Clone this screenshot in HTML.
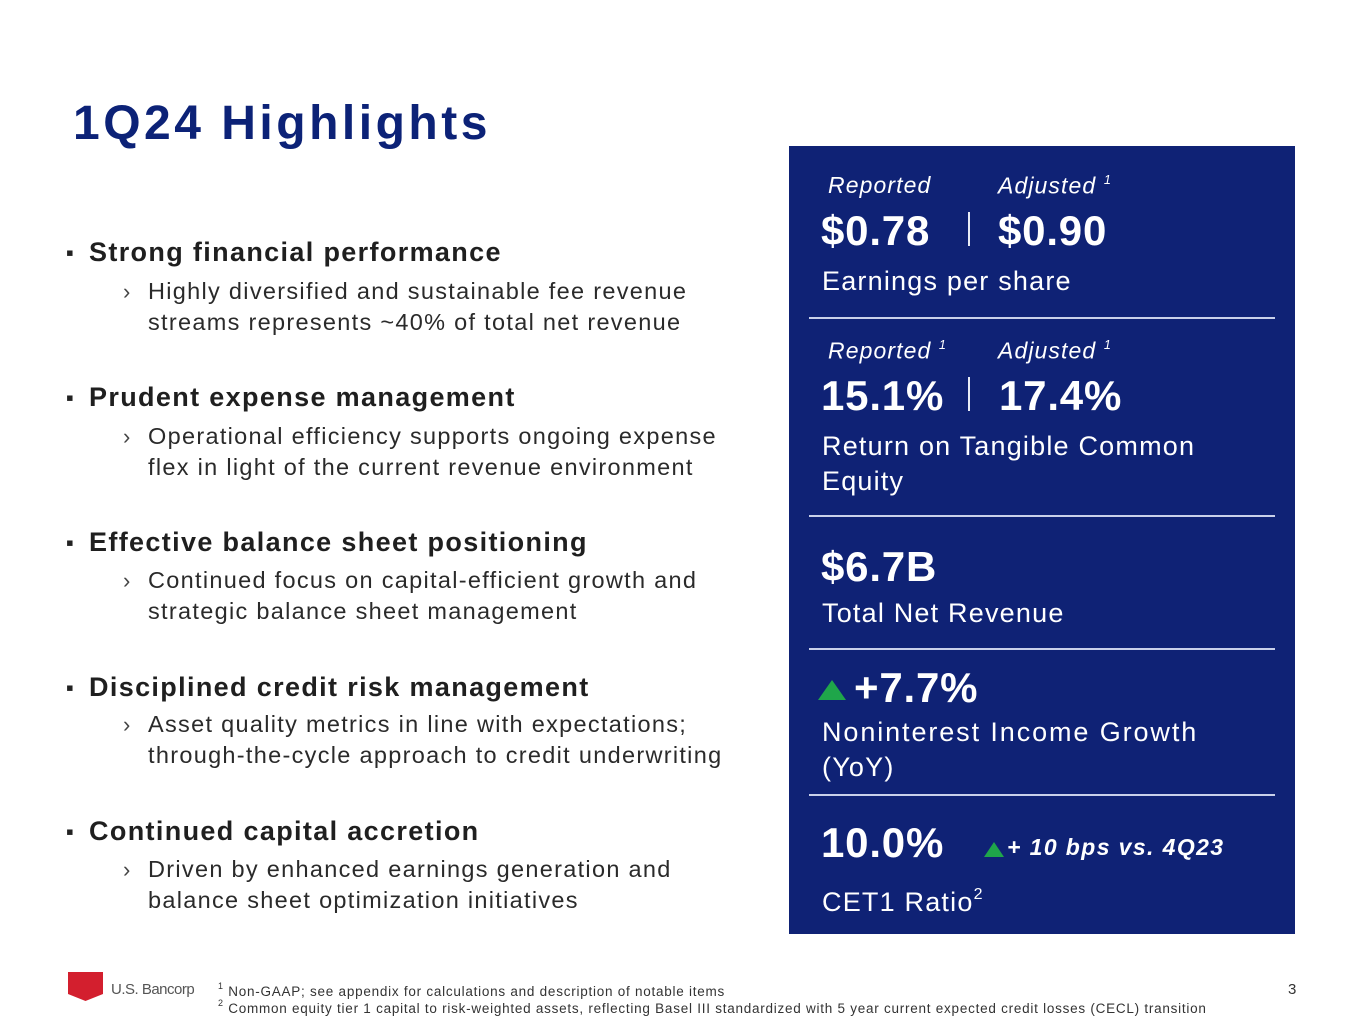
<!DOCTYPE html>
<html><head><meta charset="utf-8"><style>
*{margin:0;padding:0;box-sizing:border-box}
body{width:1365px;height:1024px;background:#fff;position:relative;overflow:hidden;font-family:"Liberation Sans",sans-serif}
.t{position:absolute;white-space:nowrap;line-height:1}
.h{font-size:27px;font-weight:bold;color:#1f1f1f;letter-spacing:1.35px}
.s{font-size:23.5px;color:#2a2a2a;letter-spacing:1.3px}
.b{font-size:22px;color:#222}
.a{font-size:22px;color:#444}
.w{color:#fff}
.it{font-size:23px;font-style:italic;letter-spacing:1.1px}
.big{font-size:42px;font-weight:bold;letter-spacing:0.8px}
.lab{font-size:27px;letter-spacing:1.2px}
.rule{position:absolute;left:809px;width:466px;height:2px;background:#c9d0ea}
.pipe{position:absolute;left:968px;width:2px;height:34px;background:#e8ebf5}
sup{font-size:0.55em;vertical-align:0.75em}
.tri{position:absolute;width:0;height:0;border-left:14px solid transparent;border-right:14px solid transparent;border-bottom:20px solid #1fa64a}
.fn{font-size:13.5px;color:#333;letter-spacing:0.75px}
</style></head><body>
<div class="t" style="left:73px;top:100px;font-size:48px;font-weight:bold;color:#0c2277;letter-spacing:3.5px">1Q24 Highlights</div>

<div>
<div class="t b" style="left:66px;top:242px">▪</div>
<div class="t h" style="left:89px;top:239px">Strong financial performance</div>
<div class="t a" style="left:123px;top:281px">›</div>
<div class="t s" style="left:148px;top:280px">Highly diversified and sustainable fee revenue</div>
<div class="t s" style="left:148px;top:311px">streams represents ~40% of total net revenue</div>

<div class="t b" style="left:66px;top:387px">▪</div>
<div class="t h" style="left:89px;top:384px">Prudent expense management</div>
<div class="t a" style="left:123px;top:426px">›</div>
<div class="t s" style="left:148px;top:425px">Operational efficiency supports ongoing expense</div>
<div class="t s" style="left:148px;top:456px">flex in light of the current revenue environment</div>

<div class="t b" style="left:66px;top:532px">▪</div>
<div class="t h" style="left:89px;top:529px">Effective balance sheet positioning</div>
<div class="t a" style="left:123px;top:570px">›</div>
<div class="t s" style="left:148px;top:569px">Continued focus on capital-efficient growth and</div>
<div class="t s" style="left:148px;top:600px">strategic balance sheet management</div>

<div class="t b" style="left:66px;top:677px">▪</div>
<div class="t h" style="left:89px;top:674px">Disciplined credit risk management</div>
<div class="t a" style="left:123px;top:714px">›</div>
<div class="t s" style="left:148px;top:713px">Asset quality metrics in line with expectations;</div>
<div class="t s" style="left:148px;top:744px">through-the-cycle approach to credit underwriting</div>

<div class="t b" style="left:66px;top:821px">▪</div>
<div class="t h" style="left:89px;top:818px">Continued capital accretion</div>
<div class="t a" style="left:123px;top:859px">›</div>
<div class="t s" style="left:148px;top:858px">Driven by enhanced earnings generation and</div>
<div class="t s" style="left:148px;top:889px">balance sheet optimization initiatives</div>
</div>

<div style="position:absolute;left:789px;top:146px;width:506px;height:788px;background:#0f2275"></div>

<div class="t w it" style="left:828px;top:174px">Reported</div>
<div class="t w it" style="left:998px;top:174px">Adjusted <sup>1</sup></div>
<div class="t w big" style="left:821px;top:210px">$0.78</div>
<div class="pipe" style="top:212px"></div>
<div class="t w big" style="left:998px;top:210px">$0.90</div>
<div class="t w lab" style="left:822px;top:268px">Earnings per share</div>
<div class="rule" style="top:317px"></div>

<div class="t w it" style="left:828px;top:339px">Reported <sup>1</sup></div>
<div class="t w it" style="left:998px;top:339px">Adjusted <sup>1</sup></div>
<div class="t w big" style="left:821px;top:375px">15.1%</div>
<div class="pipe" style="top:377px"></div>
<div class="t w big" style="left:999px;top:375px">17.4%</div>
<div class="t w lab" style="left:822px;top:433px">Return on Tangible Common</div>
<div class="t w lab" style="left:822px;top:468px">Equity</div>
<div class="rule" style="top:515px"></div>

<div class="t w big" style="left:821px;top:546px">$6.7B</div>
<div class="t w lab" style="left:822px;top:600px">Total Net Revenue</div>
<div class="rule" style="top:648px"></div>

<div class="tri" style="left:818px;top:680px"></div>
<div class="t w big" style="left:854px;top:667px">+7.7%</div>
<div class="t w lab" style="left:822px;top:719px;letter-spacing:1.9px">Noninterest Income Growth</div>
<div class="t w lab" style="left:822px;top:754px">(YoY)</div>
<div class="rule" style="top:794px"></div>

<div class="t w big" style="left:821px;top:822px">10.0%</div>
<div class="tri" style="left:984px;top:842px;border-left-width:10px;border-right-width:10px;border-bottom-width:15px"></div>
<div class="t w" style="left:1007px;top:836px;font-size:23px;font-weight:bold;font-style:italic;letter-spacing:1.4px">+ 10 bps vs. 4Q23</div>
<div class="t w lab" style="left:822px;top:887px">CET1 Ratio<sup style="font-size:16px">2</sup></div>

<svg style="position:absolute;left:68px;top:972px" width="36" height="30"><path d="M0 0H35V22L17.5 29L0 22Z" fill="#d31f2e"/></svg>
<div class="t" style="left:111px;top:982px;font-size:15px;color:#555;letter-spacing:-0.5px">U.S. Bancorp</div>
<div class="t fn" style="left:218px;top:982px"><sup style="font-size:9px">1</sup> Non-GAAP; see appendix for calculations and description of notable items</div>
<div class="t fn" style="left:218px;top:999px"><sup style="font-size:9px">2</sup> Common equity tier 1 capital to risk-weighted assets, reflecting Basel III standardized with 5 year current expected credit losses (CECL) transition</div>
<div class="t" style="left:1288px;top:982px;font-size:15px;color:#333">3</div>
</body></html>
